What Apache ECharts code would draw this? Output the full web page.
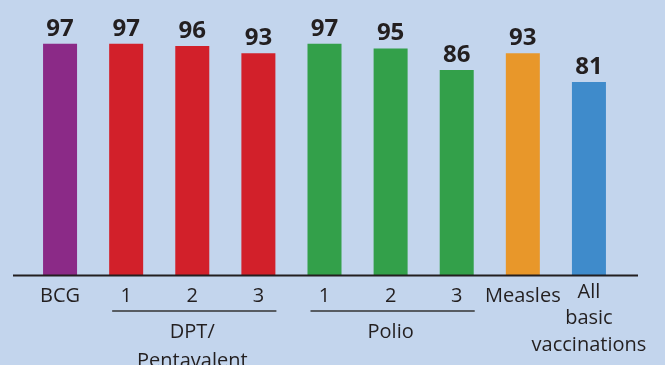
<!DOCTYPE html>
<html>
<head>
<meta charset="utf-8">
<script src="https://cdn.jsdelivr.net/npm/echarts@6/dist/echarts.min.js"></script>
<style>
html,body{margin:0;padding:0;background:#c3d5ed;}
#chart{width:665px;height:365px;}
</style>
</head>
<body>
<div id="chart"></div>
<script>
const categories = ['BCG', '1', '2', '3', '1', '2', '3', 'Measles', 'All\nbasic\nvaccinations'];
const values = [97, 97, 96, 93, 97, 95, 86, 93, 81];
const barColors = ['#8b2a87', '#d2202a', '#d2202a', '#d2202a', '#33a04a', '#33a04a', '#33a04a', '#e8972a', '#3f8bcb'];
const groupNames = ['DPT/\nPentavalent', 'Polio'];
const groupStart = [1, 4];
const groupEnd = [3, 6];

const FONT = '"Open Sans", sans-serif';
const TEXT = '#231f20';
const chart = echarts.init(document.getElementById('chart'), null, {renderer: 'canvas'});

function groupLabel(i) {
  for (let g = 0; g < groupNames.length; g++) {
    if (i === Math.round((groupStart[g] + groupEnd[g]) / 2)) return groupNames[g];
  }
  return '';
}

const grid = {left: 27, right: 43, top: 36.5, bottom: 89.5, containLabel: false, outerBoundsMode: 'none'};
chart.setOption({
  backgroundColor: '#c3d5ed',
  animation: false,
  grid: grid,
  xAxis: [{
    type: 'category',
    data: categories,
    axisLine: {show: false},
    axisTick: {show: false},
    axisLabel: {
      interval: 0, color: TEXT, fontFamily: FONT, fontSize: 20, margin: 3.5,
      formatter: function (v) { return v.indexOf('\n') >= 0 ? '{m|' + v + '}' : '{s|' + v + '}'; },
      rich: {
        s: {color: TEXT, fontFamily: FONT, fontSize: 20, lineHeight: 34},
        m: {color: TEXT, fontFamily: FONT, fontSize: 20, lineHeight: 26.5}
      }
    }
  }, {
    type: 'category',
    data: categories,
    position: 'bottom',
    offset: 34,
    axisLine: {show: false},
    axisTick: {show: false},
    axisLabel: {interval: 0, margin: 8, color: TEXT, fontFamily: FONT, fontSize: 20, lineHeight: 29,
      formatter: function (v, i) { return groupLabel(i); }}
  }],
  yAxis: {type: 'value', min: 0, max: 100, show: false, splitLine: {show: false}},
  series: [{
    type: 'bar',
    barWidth: 34,
    data: values.map((v, i) => ({value: v, itemStyle: {color: barColors[i]}})),
    label: {show: true, position: 'top', distance: 3, color: TEXT, fontFamily: FONT,
      fontWeight: 'bold', fontSize: 24}
  }]
});

const y0 = chart.convertToPixel({yAxisIndex: 0}, 0);
const gl = grid.left, gr = 665 - grid.right;
const elems = [{
  type: 'line', shape: {x1: gl - 14, y1: y0, x2: gr + 16, y2: y0},
  style: {stroke: TEXT, lineWidth: 2}, z: 10
}];
for (let g = 0; g < groupNames.length; g++) {
  const xa = chart.convertToPixel({xAxisIndex: 0}, groupStart[g]) - 14;
  const xb = chart.convertToPixel({xAxisIndex: 0}, groupEnd[g]) + 18;
  elems.push({type: 'line', shape: {x1: xa, y1: 311, x2: xb, y2: 311},
    style: {stroke: '#333333', lineWidth: 1.3}, z: 10});
}
chart.setOption({graphic: elems});
</script>
</body>
</html>
